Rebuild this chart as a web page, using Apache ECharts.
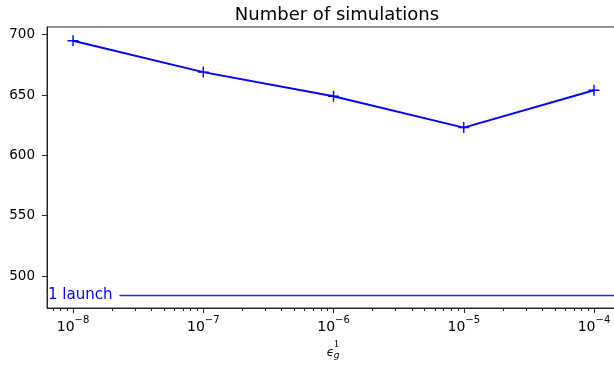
<!DOCTYPE html>
<html>
<head>
<meta charset="utf-8">
<script src="https://cdn.jsdelivr.net/npm/echarts@6/dist/echarts.min.js"></script>
<style>
  html, body { margin: 0; padding: 0; background: #fff; }
  #chart { width: 614px; height: 367px; }
</style>
</head>
<body>
<div id="chart"></div>
<script>
// Tolerance values (log-scaled x) and the simulation counts they needed
const tolerances = [1e-8, 1e-7, 1e-6, 1e-5, 1e-4];
const simulations = [695, 669, 649, 623, 654];
// Reference level: a single launch
const singleLaunch = 484;
const singleLaunchLabel = '1 launch';
// Axis ticks
const xMajorTicks = [1e-8, 1e-7, 1e-6, 1e-5, 1e-4];
const yTicks = [500, 550, 600, 650, 700];

// minor log ticks 2..9 x 10^k
const xMinorTicks = [];
for (let k = -9; k <= -4; k++) {
  for (let m = 2; m <= 9; m++) xMinorTicks.push(m * Math.pow(10, k));
}

const FONT = 'DejaVu Sans';
const BLUE = '#0000ff';
const AXIS = '#262626';

const xMin = Math.pow(10, -8.2);
const xMax = Math.pow(10, -3.808);

function expLabel(v) {
  const e = Math.round(Math.log10(v));
  return '{b|10}{s|' + (e < 0 ? '\u2212' + (-e) : e) + '}';
}

const chart = echarts.init(document.getElementById('chart'), null, { renderer: 'canvas' });
chart.setOption({
  animation: false,
  backgroundColor: '#fff',
  title: {
    text: 'Number of simulations',
    left: 332, top: 1, textAlign: 'center',
    textStyle: { fontFamily: FONT, fontSize: 18, fontWeight: 'normal', color: '#000' }
  },
  grid: {
    left: 47, width: 572, top: 27, bottom: 59,
    outerBoundsMode: 'none',
    show: true, borderColor: AXIS, borderWidth: 1, backgroundColor: 'transparent'
  },
  xAxis: [{
    type: 'log', logBase: 10, min: xMin, max: xMax, position: 'bottom',
    axisLine: { show: true, lineStyle: { color: AXIS, width: 1 } },
    axisTick: { show: true, customValues: xMajorTicks, length: 5, lineStyle: { color: AXIS, width: 1 } },
    axisLabel: {
      customValues: xMajorTicks, margin: 7, formatter: expLabel,
      rich: {
        b: { fontFamily: FONT, fontSize: 14, color: '#000', verticalAlign: 'bottom', lineHeight: 19 },
        s: { fontFamily: FONT, fontSize: 10, color: '#000', verticalAlign: 'top', lineHeight: 19, padding: [0, 0, 8, 0] }
      }
    },
    splitLine: { show: false },
    // epsilon with stacked subscript g and superscript 1
    name: '{p|}{o|1}\n{e|\u03f5}{g|g}',
    nameLocation: 'middle', nameGap: 33,
    nameTextStyle: {
      align: 'center',
      rich: {
        p: { width: 7, fontSize: 9, lineHeight: 7 },
        o: { width: 5, fontFamily: 'DejaVu Serif', fontSize: 9, color: '#000', lineHeight: 7 },
        e: { width: 7, fontFamily: 'DejaVu Sans', fontStyle: 'italic', fontSize: 12, color: '#000', lineHeight: 10 },
        g: { width: 5, fontFamily: 'DejaVu Sans', fontStyle: 'italic', fontSize: 9, color: '#000', lineHeight: 10, padding: [6, 0, 0, 0] }
      }
    }
  }, {
    type: 'log', logBase: 10, min: xMin, max: xMax, position: 'bottom',
    axisLine: { show: false },
    axisTick: { show: true, customValues: xMinorTicks, length: 3, lineStyle: { color: AXIS, width: 1 } },
    axisLabel: { show: false },
    splitLine: { show: false }
  }],
  yAxis: {
    type: 'value', min: 473.5, max: 706.4,
    axisLine: { show: true, lineStyle: { color: AXIS, width: 1 } },
    axisTick: { show: true, customValues: yTicks, length: 5, lineStyle: { color: AXIS, width: 1 } },
    axisLabel: { customValues: yTicks, margin: 12, fontFamily: FONT, fontSize: 13.5, color: '#000' },
    splitLine: { show: false }
  },
  series: [{
    type: 'line',
    data: tolerances.map((t, i) => [t, simulations[i]]),
    xAxisIndex: 0,
    lineStyle: { color: BLUE, width: 2 },
    symbol: 'path://M5,0L5,10M0,5L10,5',
    symbolSize: 11,
    itemStyle: { color: BLUE, borderColor: BLUE, borderWidth: 1.4 },
    emphasis: { disabled: true },
    markLine: {
      silent: true,
      symbol: 'none',
      lineStyle: { color: '#2a2aff', width: 1.3, type: 'solid', opacity: 1 },
      label: {
        show: true,
        formatter: singleLaunchLabel,
        position: 'insideStartTop',
        distance: [1, -8],
        color: BLUE,
        fontFamily: FONT, fontSize: 15,
        backgroundColor: '#fff',
        padding: [1, 7, 1, 0]
      },
      data: [{ yAxis: singleLaunch }]
    }
  }]
});
</script>
</body>
</html>
